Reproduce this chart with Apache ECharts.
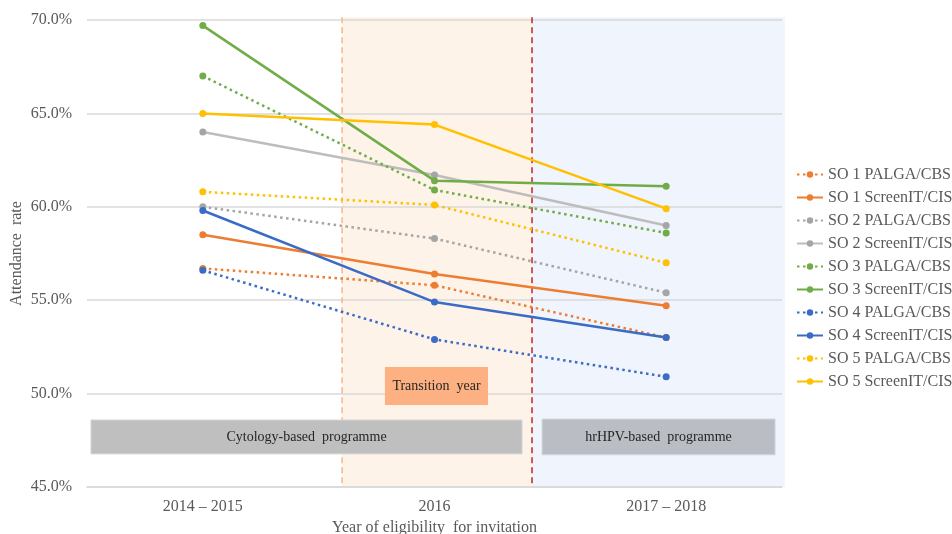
<!DOCTYPE html>
<html>
<head>
<meta charset="utf-8">
<script src="https://cdn.jsdelivr.net/npm/echarts@6/dist/echarts.min.js"></script>
<style>
html,body{margin:0;padding:0;background:#fff;}
#chart{width:952px;height:534px;}
</style>
</head>
<body>
<div id="chart"></div>
<script>
const categories = ['2014 \u2013 2015', '2016', '2017 \u2013 2018'];
const so1Palga  = [56.7, 55.8, 53.0];
const so1Screen = [58.5, 56.4, 54.7];
const so2Palga  = [60.0, 58.3, 55.4];
const so2Screen = [64.0, 61.7, 59.0];
const so3Palga  = [67.0, 60.9, 58.6];
const so3Screen = [69.7, 61.4, 61.1];
const so4Palga  = [56.6, 52.9, 50.9];
const so4Screen = [59.8, 54.9, 53.0];
const so5Palga  = [60.8, 60.1, 57.0];
const so5Screen = [65.0, 64.4, 59.9];
const yTicks = [45, 50, 55, 60, 65, 70];

const FONT = '"Liberation Serif", "DejaVu Serif", serif';
const DOT = [2.5, 3.5];

function lineSeries(name, data, color, dotted, lineColor) {
  return {
    name: name,
    type: 'line',
    data: data,
    xAxisIndex: 0,
    yAxisIndex: 0,
    symbol: 'circle',
    symbolSize: 7,
    showSymbol: true,
    z: 5,
    itemStyle: { color: color },
    lineStyle: { color: lineColor || color, width: 2.5, type: dotted ? DOT : 'solid' },
    emphasis: { disabled: true }
  };
}

const chart = echarts.init(document.getElementById('chart'), null, { renderer: 'canvas' });

const option = {
  backgroundColor: '#ffffff',
  animation: false,
  grid: { left: 87, right: 170, top: 20, bottom: 47, containLabel: false, outerBoundsMode: 'none' },
  legend: {
    orient: 'vertical',
    left: 791,
    top: 161,
    itemWidth: 26,
    itemHeight: 8,
    itemGap: 6,
    textStyle: { fontFamily: FONT, fontSize: 16, color: '#595959', lineHeight: 17 },
    data: ['SO 1 PALGA/CBS', 'SO 1 ScreenIT/CIS', 'SO 2 PALGA/CBS', 'SO 2 ScreenIT/CIS',
           'SO 3 PALGA/CBS', 'SO 3 ScreenIT/CIS', 'SO 4 PALGA/CBS', 'SO 4 ScreenIT/CIS',
           'SO 5 PALGA/CBS', 'SO 5 ScreenIT/CIS']
  },
  xAxis: [
    {
      type: 'category',
      data: categories,
      boundaryGap: true,
      axisLine: { show: true, lineStyle: { color: '#d9d9d9', width: 1.5 } },
      axisTick: { show: false },
      axisLabel: { fontFamily: FONT, fontSize: 16, color: '#595959', margin: 12 },
      splitLine: { show: false },
      name: 'Year of eligibility  for invitation',
      nameLocation: 'middle',
      nameGap: 33,
      nameMoveOverlap: false,
      nameTextStyle: { fontFamily: FONT, fontSize: 16, color: '#595959' },
      z: 3
    },
    {
      type: 'value',
      min: -0.5,
      max: 2.5,
      show: false
    }
  ],
  yAxis: {
    type: 'value',
    min: 45,
    max: 70,
    interval: 5,
    axisLine: { show: false },
    axisTick: { show: false },
    axisLabel: {
      fontFamily: FONT, fontSize: 16, color: '#595959', margin: 15,
      formatter: v => v.toFixed(1) + '%'
    },
    splitLine: { lineStyle: { color: '#d9d9d9', width: 1.5 } },
    name: 'Attendance  rate',
    nameLocation: 'middle',
    nameGap: 62,
    nameMoveOverlap: false,
    nameRotate: 90,
    nameTextStyle: { fontFamily: FONT, fontSize: 16, color: '#595959' }
  },
  series: [
    {
      type: 'custom',
      xAxisIndex: 1,
      yAxisIndex: 0,
      z: -1,
      silent: true,
      data: [0],
      renderItem: function (params, api) {
        const tl1 = api.coord([0.601, 70.15]);
        const br1 = api.coord([1.421, 45]);
        const tl2 = api.coord([1.421, 70.15]);
        const br2 = api.coord([2.512, 45]);
        return {
          type: 'group',
          children: [
            { type: 'rect', shape: { x: tl1[0], y: tl1[1], width: br1[0] - tl1[0], height: br1[1] - tl1[1] }, style: { fill: '#FEF3E9' } },
            { type: 'rect', shape: { x: tl2[0], y: tl2[1], width: br2[0] - tl2[0], height: br2[1] - tl2[1] }, style: { fill: '#F0F4FC' } }
          ]
        };
      }
    },
    {
      type: 'custom',
      xAxisIndex: 1,
      yAxisIndex: 0,
      z: 3,
      silent: true,
      data: [0],
      renderItem: function (params, api) {
        const l1t = api.coord([0.601, 70.15]);
        const l1b = api.coord([0.601, 45]);
        const l2t = api.coord([1.421, 70.15]);
        const l2b = api.coord([1.421, 45]);
        const c1 = api.coord([-0.483, 48.59]);
        const c1b = api.coord([1.378, 46.77]);
        const h1 = api.coord([1.464, 48.64]);
        const h1b = api.coord([2.47, 46.72]);
        const t1 = api.coord([0.786, 51.42]);
        const t1b = api.coord([1.231, 49.39]);
        return {
          type: 'group',
          children: [
            { type: 'line', shape: { x1: l1t[0], y1: l1t[1], x2: l1b[0], y2: l1b[1] },
              style: { stroke: '#F8B68A', lineWidth: 1.5, lineDash: [6, 4] } },
            { type: 'line', shape: { x1: l2t[0], y1: l2t[1], x2: l2b[0], y2: l2b[1] },
              style: { stroke: '#C4232B', lineWidth: 1.5, lineDash: [6, 4] } },
            { type: 'rect', shape: { x: c1[0], y: c1[1], width: c1b[0] - c1[0], height: c1b[1] - c1[1] },
              style: { fill: '#BFBFBF', stroke: '#D9D9D9', lineWidth: 1 } },
            { type: 'text', x: (c1[0] + c1b[0]) / 2, y: (c1[1] + c1b[1]) / 2,
              style: { text: 'Cytology-based  programme', fontFamily: FONT, fontSize: 14, fill: '#262626', align: 'center', verticalAlign: 'middle' } },
            { type: 'rect', shape: { x: h1[0], y: h1[1], width: h1b[0] - h1[0], height: h1b[1] - h1[1] },
              style: { fill: '#BABDC3', stroke: '#D5D8DE', lineWidth: 1 } },
            { type: 'text', x: (h1[0] + h1b[0]) / 2, y: (h1[1] + h1b[1]) / 2,
              style: { text: 'hrHPV-based  programme', fontFamily: FONT, fontSize: 14, fill: '#262626', align: 'center', verticalAlign: 'middle' } },
            { type: 'rect', shape: { x: t1[0], y: t1[1], width: t1b[0] - t1[0], height: t1b[1] - t1[1] },
              style: { fill: '#FDB182' } },
            { type: 'text', x: (t1[0] + t1b[0]) / 2, y: (t1[1] + t1b[1]) / 2,
              style: { text: 'Transition  year', fontFamily: FONT, fontSize: 14, fill: '#262626', align: 'center', verticalAlign: 'middle' } }
          ]
        };
      }
    },
    lineSeries('SO 1 PALGA/CBS', so1Palga, '#ED7D31', true),
    lineSeries('SO 1 ScreenIT/CIS', so1Screen, '#ED7D31', false),
    lineSeries('SO 2 PALGA/CBS', so2Palga, '#A5A5A5', true),
    lineSeries('SO 2 ScreenIT/CIS', so2Screen, '#A5A5A5', false, '#BDBDBD'),
    lineSeries('SO 3 PALGA/CBS', so3Palga, '#70AD47', true),
    lineSeries('SO 3 ScreenIT/CIS', so3Screen, '#70AD47', false),
    lineSeries('SO 4 PALGA/CBS', so4Palga, '#3A6BC6', true),
    lineSeries('SO 4 ScreenIT/CIS', so4Screen, '#3A6BC6', false),
    lineSeries('SO 5 PALGA/CBS', so5Palga, '#FFC000', true),
    lineSeries('SO 5 ScreenIT/CIS', so5Screen, '#FFC000', false)
  ]
};
chart.setOption(option);
</script>
</body>
</html>
